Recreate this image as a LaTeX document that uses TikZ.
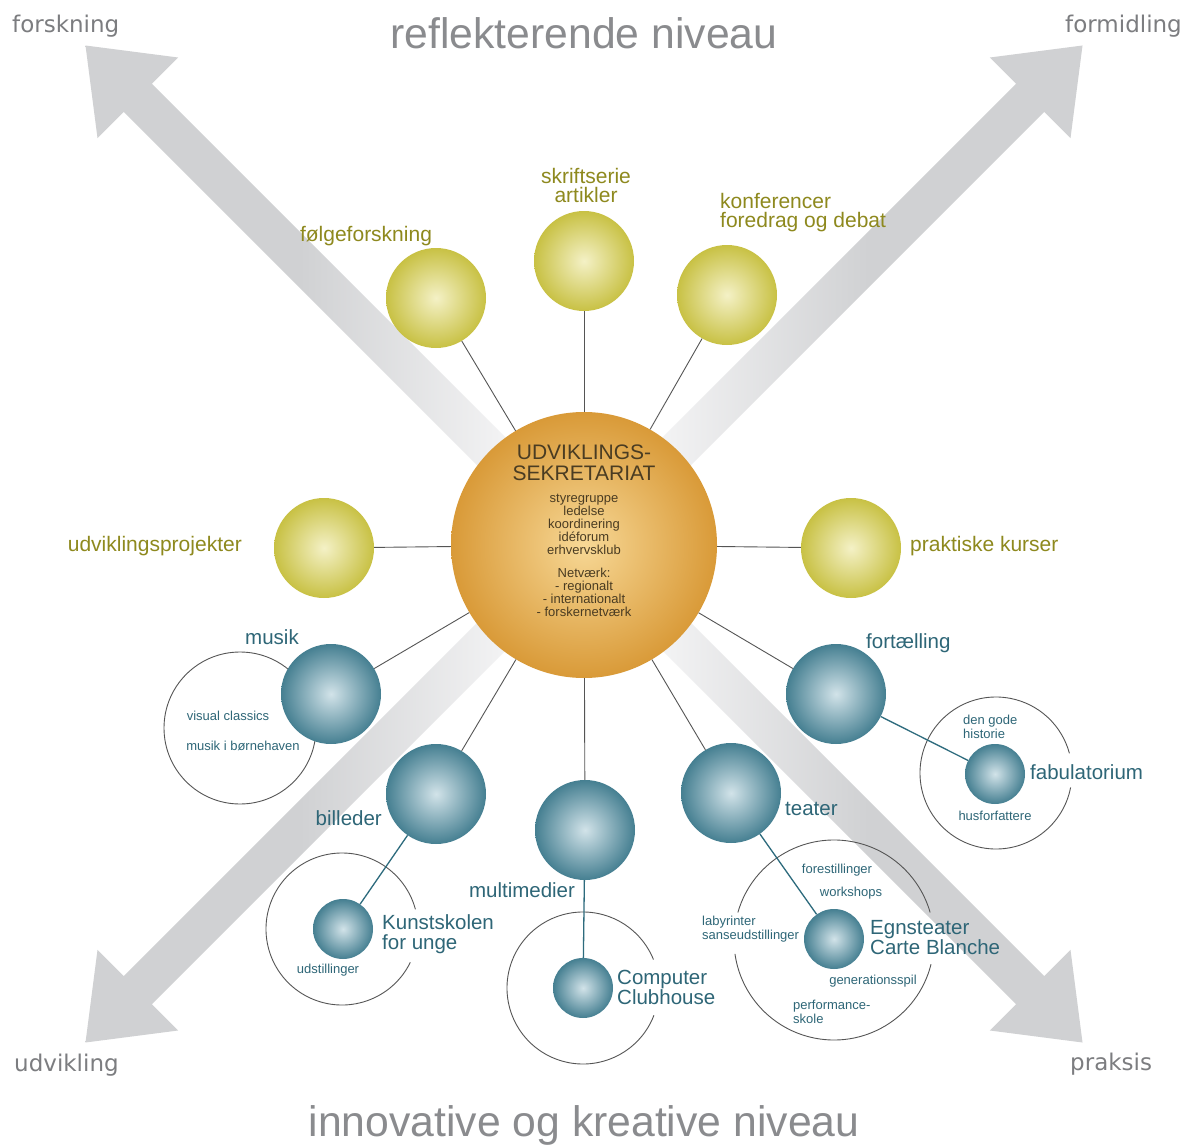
\documentclass[tikz,border=0pt]{standalone}
\usepackage{fontspec}
\setmainfont{Liberation Sans}
\newfontfamily\dejavu{DejaVu Sans}
\usetikzlibrary{calc}
\definecolor{arrowgray}{HTML}{D0D1D3}
\definecolor{arrowlight}{HTML}{F4F4F5}
\definecolor{yin}{HTML}{F4F1C6}
\definecolor{yout}{HTML}{C8C144}
\definecolor{bin}{HTML}{D2E3E9}
\definecolor{bout}{HTML}{457F91}
\definecolor{oin}{HTML}{F7D896}
\definecolor{oout}{HTML}{D99A38}
\definecolor{ytext}{HTML}{8E891E}
\definecolor{btext}{HTML}{2E6677}
\definecolor{ctext}{HTML}{4A3C22}
\definecolor{cornergray}{HTML}{7C7D80}
\definecolor{titlegray}{HTML}{8A8B8E}
\definecolor{conngray}{HTML}{555555}
\definecolor{teal}{HTML}{2D6B7D}
\definecolor{ringgray}{HTML}{555555}
\pgfdeclarehorizontalshading{fadeL}{100bp}{color(0bp)=(arrowgray); color(25bp)=(arrowgray); color(50bp)=(arrowgray); color(75bp)=(arrowlight); color(100bp)=(arrowlight)}
\pgfdeclarehorizontalshading{fadeR}{100bp}{color(0bp)=(arrowlight); color(25bp)=(arrowlight); color(50bp)=(arrowgray); color(75bp)=(arrowgray); color(100bp)=(arrowgray)}
\newcommand\bigarr[3]{%
  \begin{scope}[shift={(584,544)}]
    \shade[shading=#3] (#1*498.5,#2*498.5) -- (#1*405.9,#2*486.5) -- (#1*432.1,#2*460.3)
      -- (#1*70.8,#2*99.0) -- (#1*99.0,#2*70.8) -- (#1*460.3,#2*432.1) -- (#1*486.5,#2*405.9) -- cycle;
  \end{scope}}
\tikzset{
  ycirc/.style={circle, inner sep=0pt, minimum size=100, inner color=yin, outer color=yout},
  bcirc/.style={circle, inner sep=0pt, minimum size=100, inner color=bin, outer color=bout},
  bsmall/.style={bcirc, minimum size=60},
  ocirc/.style={circle, inner sep=0pt, minimum size=266, inner color=oin, outer color=oout},
  ring/.style={draw=ringgray, line width=0.9pt},
  conn/.style={draw=conngray, line width=0.9pt},
  tconn/.style={draw=teal, line width=1.3pt},
  ylab/.style={text=ytext, font=\fontsize{21}{19}\selectfont, inner sep=0pt, align=center},
  blab/.style={text=btext, font=\fontsize{20.5}{20}\selectfont, inner sep=0pt, align=left},
  slab/.style={text=btext, font=\fontsize{13}{13.5}\selectfont, inner sep=0pt, align=left},
  clab/.style={text=ctext, inner sep=0pt, align=center},
  corner/.style={text=cornergray, font=\dejavu\fontsize{23}{24}\selectfont, inner sep=0pt, anchor=base west},
  ttl/.style={text=titlegray, font=\fontsize{42.7}{44}\selectfont, inner sep=0pt, anchor=base},
}
\begin{document}
\begin{tikzpicture}[x=1pt,y=-1pt]
\useasboundingbox (0,0) rectangle (1184,1145);
\fill[white] (0,0) rectangle (1184,1145);
% big arrows
\bigarr{-1}{-1}{fadeL}
\bigarr{1}{-1}{fadeR}
\bigarr{-1}{1}{fadeL}
\bigarr{1}{1}{fadeR}
% rings
\coordinate (musring) at (240,728);
\coordinate (fabring) at (996,773);
\coordinate (kunring) at (342,929);
\coordinate (ccring) at (583,988);
\coordinate (egnring) at (834,940);
\draw[ring] (musring) circle[radius=76];
\draw[ring] ($(fabring)+(11:76)$) arc[start angle=11, end angle=345, radius=76];
\draw[ring] ($(kunring)+(26:76)$) arc[start angle=26, end angle=345, radius=76];
\draw[ring] ($(ccring)+(21:76)$) arc[start angle=21, end angle=338, radius=76];
\draw[ring] ($(egnring)+(14:100)$) arc[start angle=14, end angle=172, radius=100];
\draw[ring] ($(egnring)+(196:100)$) arc[start angle=196, end angle=344, radius=100];
% circles
\node[ocirc] (sek) at (584,545) {};
\node[ycirc] (fo) at (436,298) {};
\node[ycirc] (sk) at (584,261) {};
\node[ycirc] (ko) at (727,295) {};
\node[ycirc] (udv) at (324,548) {};
\node[ycirc] (pra) at (851,548) {};
\node[bcirc] (mus) at (331,694) {};
\node[bcirc] (fort) at (836,694) {};
\node[bcirc] (bil) at (436,794) {};
\node[bcirc] (mul) at (585,830) {};
\node[bcirc] (tea) at (731,793) {};
\node[bsmall] (fab) at (995,774) {};
\node[bsmall] (kun) at (343,929) {};
\node[bsmall] (cc) at (583,988) {};
\node[bsmall] (egn) at (834,939) {};
% connectors
\foreach \s in {fo,sk,ko,udv,pra,mus,fort,bil,mul,tea}{\draw[conn] (sek) -- (\s);}
\draw[tconn] (fort) -- (fab);
\draw[tconn] (bil) -- (kun);
\draw[tconn] (mul) -- (cc);
\draw[tconn] (tea) -- (egn);
% titles and corners
\node[ttl] (t1) at (584,49) {reflekterende niveau};
\node[ttl] (t2) at (584,1136) {innovative og kreative niveau};
\node[corner] (c1) at (12,33) {forskning};
\node[corner, anchor=base east] (c2) at (1182,33) {formidling};
\node[corner] (c3) at (14,1071) {udvikling};
\node[corner] (c4) at (1070,1070) {praksis};
% yellow labels
\node[ylab] (lfo) at (366,236) {følgeforskning};
\node[ylab] (lsk) at (586,185) {skriftserie\\artikler};
\node[ylab, anchor=west, align=left] (lko) at (720,213) {konferencer\\foredrag og debat};
\node[ylab, anchor=east] (ludv) at (242,546) {udviklingsprojekter};
\node[ylab, anchor=west] (lpra) at (910,546) {praktiske kurser};
% blue labels
\node[blab] (lmus) at (272,637) {musik};
\node[blab, anchor=west] (lfort) at (866,643) {fortælling};
\node[blab, anchor=east] (lbil) at (382,818) {billeder};
\node[blab] (lmul) at (522,890) {multimedier};
\node[blab, anchor=west] (ltea) at (785,809) {teater};
\node[blab, anchor=west] (lfab) at (1030,772) {fabulatorium};
\node[blab, anchor=west] (lkun) at (382,934) {Kunstskolen\\for unge};
\node[blab, anchor=west] (lcc) at (617,987) {Computer\\Clubhouse};
\node[blab, anchor=west] (legn) at (870,938) {Egnsteater\\Carte Blanche};
% small labels
\node[slab] (s1) at (228,716) {visual classics};
\node[slab] (s2) at (243,746) {musik i børnehaven};
\node[slab, anchor=west] (s3) at (963,727) {den gode\\historie};
\node[slab] (s4) at (995,816) {husforfattere};
\node[slab] (s5) at (837,870) {forestillinger};
\node[slab] (s6) at (851,893) {workshops};
\node[slab, anchor=west] (s7) at (702,929) {labyrinter\\sanseudstillinger};
\node[slab] (s8) at (873,981) {generationsspil};
\node[slab, anchor=west] (s9) at (793,1012) {performance-\\skole};
\node[slab] (s10) at (328,970) {udstillinger};
% central text
\node[clab, font=\fontsize{21}{21}\selectfont] (sekt) at (584,463) {UDVIKLINGS-\\SEKRETARIAT};
\node[clab, font=\fontsize{13}{13}\selectfont] (sekl) at (584,555) {styregruppe\\ledelse\\koordinering\\idéforum\\erhvervsklub\\[10pt]Netværk:\\- regionalt\\- internationalt\\- forskernetværk};
\end{tikzpicture}
\end{document}
